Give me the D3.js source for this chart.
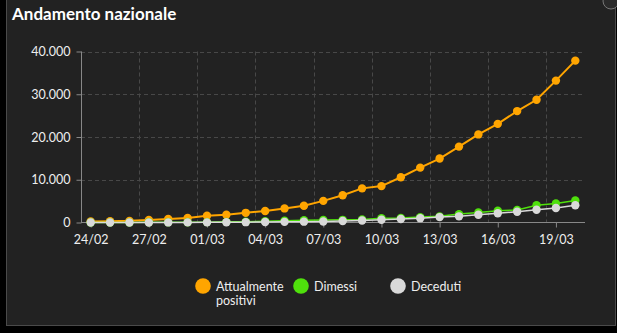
<!DOCTYPE html>
<html><head><meta charset="utf-8">
<script src="https://cdn.jsdelivr.net/npm/d3@7"></script>
<style>
html,body{margin:0;padding:0;background:#000;}
svg{display:block;font-family:Lato,"Noto Sans",sans-serif;}
</style></head>
<body>
<svg id="c" width="617" height="333"></svg>
<script>
const dates = ["24/02","25/02","26/02","27/02","28/02","29/02","01/03","02/03","03/03","04/03","05/03","06/03","07/03","08/03","09/03","10/03","11/03","12/03","13/03","14/03","15/03","16/03","17/03","18/03","19/03","20/03"];
const positivi = [221,311,385,588,821,1049,1577,1835,2263,2706,3296,3916,5061,6387,7985,8514,10590,12839,14955,17750,20603,23073,26062,28710,33190,37860];
const dimessi = [1,1,3,45,46,50,83,149,160,276,414,523,589,622,724,1004,1045,1258,1439,1966,2335,2749,2941,4025,4440,5129];
const deceduti = [7,10,12,17,21,29,34,52,79,107,148,197,233,366,463,631,827,1016,1266,1441,1809,2158,2503,2978,3405,4032];
const yTicks = [0,10000,20000,30000,40000];
const seriesNames = ["Attualmente positivi","Dimessi","Deceduti"];
const colors = ["#ffa500","#4fe00c","#d9d9d9"];

const svg = d3.select("#c");
svg.append("rect").attr("x",6.5).attr("y",-2).attr("width",609).attr("height",327.5)
  .attr("fill","#222").attr("stroke","#4a4a4a").attr("stroke-width",1);
svg.append("circle").attr("cx",611).attr("cy",1).attr("r",8).attr("fill","#2a2a2a").attr("stroke","#777").attr("stroke-width",1);

svg.append("text").attr("x",12).attr("y",20).attr("fill","#fff")
  .attr("font-size",17).attr("font-weight","bold").text("Andamento nazionale");

const x0 = 81, x1 = 585, yTop = 51.5, yBot = 222.5;
const xBand = d3.scaleBand().domain(dates).range([x0,x1]).padding(0);
const x = d => xBand(d) + xBand.bandwidth()/2;
const y = d3.scaleLinear().domain([0,40000]).range([yBot,yTop]);

const tickDates = dates.filter((d,i)=>i%3===0);
const fmt = v => d3.format(",")(v).replace(/,/g,".");

// grid
const g = svg.append("g");
g.selectAll(".hg").data(yTicks.filter(v=>v>0)).join("line")
  .attr("x1",x0).attr("x2",x1-2).attr("y1",d=>Math.round(y(d))+0.5).attr("y2",d=>Math.round(y(d))+0.5)
  .attr("stroke","#484848").attr("stroke-dasharray","4,3");
g.selectAll(".vg").data(tickDates.filter((d,i)=>i>0)).join("line")
  .attr("x1",d=>Math.round(xBand(d))+0.5).attr("x2",d=>Math.round(xBand(d))+0.5)
  .attr("y1",yTop).attr("y2",yBot)
  .attr("stroke","#484848").attr("stroke-dasharray","4,3");

// y axis
const yAxis = svg.append("g").attr("transform",`translate(${x0+0.5},0)`)
  .call(d3.axisLeft(y).tickValues(yTicks).tickFormat(fmt).tickSize(5).tickPadding(6));
yAxis.select(".domain").attr("stroke","#888").attr("d",`M0,${yTop}V${yBot}`);
yAxis.selectAll(".tick line").attr("stroke","#888");
yAxis.selectAll("text").attr("fill","#eee").attr("font-size",12.5).attr("font-family","Lato,'Noto Sans',sans-serif");

// x axis
const xp = d3.scalePoint().domain(dates).range([x(dates[0]), x(dates[dates.length-1])]);
const xAxis = svg.append("g").attr("transform",`translate(0,${yBot})`)
  .call(d3.axisBottom(xp).tickValues(tickDates).tickSize(5).tickPadding(8));
xAxis.select(".domain").attr("stroke","#888").attr("d",`M${x0},0H${x1}`);
xAxis.selectAll(".tick line").attr("stroke","#888");
xAxis.selectAll("text").attr("fill","#eee").attr("font-size",12.5).attr("font-family","Lato,'Noto Sans',sans-serif");

// series
const allSeries = [positivi, dimessi, deceduti];
const widths = [2,1.5,1.5];
allSeries.forEach((vals,si)=>{
  const data = vals.map((v,i)=>({d:dates[i],v}));
  const line = d3.line().x(p=>x(p.d)).y(p=>y(p.v));
  svg.append("path").datum(data).attr("d",line).attr("fill","none")
    .attr("stroke",colors[si]).attr("stroke-width",widths[si]);
  svg.append("g").selectAll("circle").data(data).join("circle")
    .attr("cx",p=>x(p.d)).attr("cy",p=>y(p.v)).attr("r",4.2).attr("fill",colors[si]);
});

// legend
const legX = [203, 301, 398];
const leg = svg.append("g");
seriesNames.forEach((n,i)=>{
  leg.append("circle").attr("cx",legX[i]).attr("cy",286).attr("r",7.8).attr("fill",colors[i]);
  if(i===0){
    leg.append("text").attr("x",legX[i]+13).attr("y",291).attr("fill","#eee").attr("font-size",12.5).text("Attualmente");
    leg.append("text").attr("x",legX[i]+13).attr("y",305).attr("fill","#eee").attr("font-size",12.5).text("positivi");
  } else {
    leg.append("text").attr("x",legX[i]+13).attr("y",291).attr("fill","#eee").attr("font-size",12.5).text(n);
  }
});
</script>
</body></html>
